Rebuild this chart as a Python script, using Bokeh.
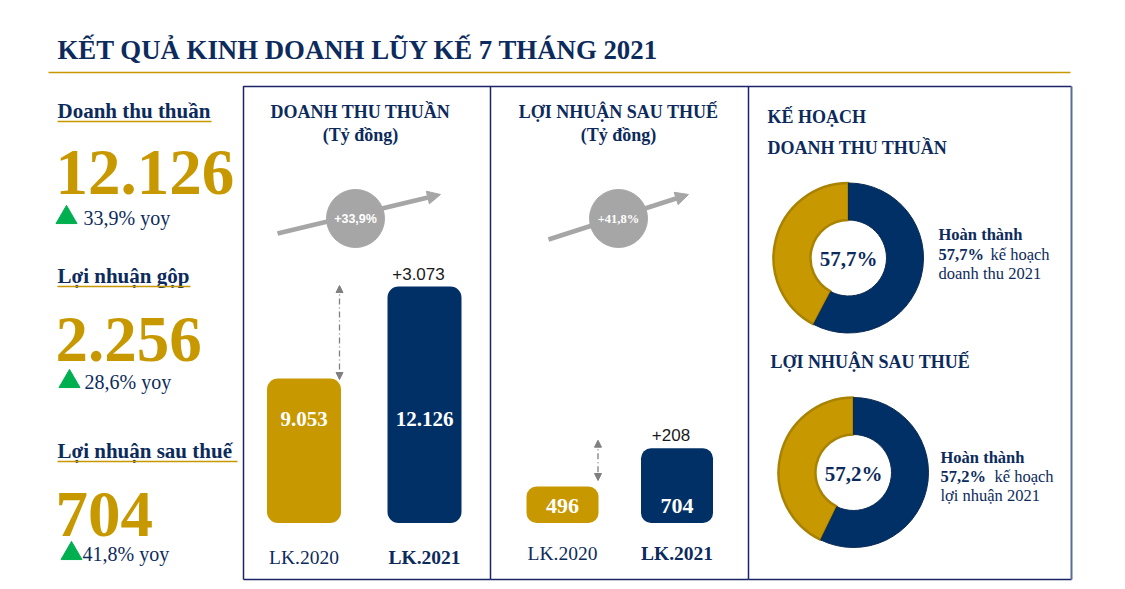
import math
from bokeh.plotting import figure
from bokeh.models import Range1d, Arrow, NormalHead
from bokeh.core.properties import value
from bokeh.embed import file_html
from bokeh.resources import INLINE

# ---------------- data ----------------
title_text = "KẾT QUẢ KINH DOANH LŨY KẾ 7 THÁNG 2021"
metric_names = ["Doanh thu thuần", "Lợi nhuận gộp", "Lợi nhuận sau thuế"]
metric_values = [12126, 2256, 704]
metric_yoy = [33.9, 28.6, 41.8]
periods = ["LK.2020", "LK.2021"]
revenue = [9053, 12126]
profit = [496, 704]
revenue_growth = 33.9
profit_growth = 41.8
panel_titles = ["DOANH THU THUẦN", "LỢI NHUẬN SAU THUẾ"]
panel_unit = "(Tỷ đồng)"
plan_titles = [["KẾ HOẠCH", "DOANH THU THUẦN"], ["LỢI NHUẬN SAU THUẾ"]]
plan_done = [57.7, 57.2]
plan_targets = ["doanh thu 2021", "lợi nhuận 2021"]


def vn_int(n):
    return f"{n:,}".replace(",", ".")


def vn_pct(x):
    return f"{x:.1f}".replace(".", ",") + "%"


# ---------------- style ----------------
NAVY = "#003066"
TNAVY = "#0C2B5C"
GOLD = "#C89800"
GOLD_EDGE = "#A98200"
GRAY = "#A6A6A6"
GREEN = "#00B050"
BORDER = "#1A2466"
SERIF = "Liberation Serif"
SANS = "Liberation Sans"

W, H = 1117, 585
TOP, BOTTOM = 0, H
p = figure(width=W, height=H, x_range=Range1d(0, W), y_range=Range1d(BOTTOM, TOP),
           output_backend="svg", toolbar_location=None, min_border=0,
           x_axis_location=None, y_axis_location=None)
p.grid.visible = False
p.outline_line_color = None
p.background_fill_color = "white"


def txt(x, y, s, size, color=TNAVY, style="normal", font=SERIF, align="left",
        baseline="middle", rname="default", y_offset=0):
    p.text(x=[x], y=[y], text=[s], text_font=value(font), text_font_size=f"{size}px",
           text_color=color, text_font_style=style, text_align=align,
           text_baseline=baseline, y_range_name=rname, y_offset=y_offset)


def lin_range(v1, y1, v2, y2, base_px):
    per_px = (v2 - v1) / (y1 - y2)
    start = v1 - (BOTTOM - y1) * per_px
    end = v1 + (y1 - TOP) * per_px
    base = v1 - (base_px - y1) * per_px
    return Range1d(start, end), base, per_px


# ---------------- title ----------------
txt(57, 49, title_text, 26.8, TNAVY, "bold")
p.segment(x0=[48], y0=[72], x1=[1070], y1=[72], line_color=GOLD, line_width=1.5)

# ---------------- left column ----------------
name_y = [110, 275, 450]
line_y = [121, 286, 461]
line_end = [211, 190, 237]
val_y = [172, 339, 514]
yoy_y = [217, 381, 553]
tri_x = [66, 69, 71]
yoy_x = [83, 84, 82]
for i in range(3):
    txt(57, name_y[i], metric_names[i], 21, TNAVY, "bold")
    p.segment(x0=[57], y0=[line_y[i]], x1=[line_end[i]], y1=[line_y[i]], line_color=GOLD, line_width=1.5)
    txt(55, val_y[i], vn_int(metric_values[i]), 65, GOLD, "bold")
    p.scatter(x=[tri_x[i]], y=[yoy_y[i]], marker="triangle", size=21, fill_color=GREEN, line_color=GREEN)
    txt(yoy_x[i], yoy_y[i], f"{vn_pct(metric_yoy[i])} yoy", 20, TNAVY)

# ---------------- panel borders ----------------
p.multi_line(xs=[[243, 243, 490, 490], [490, 748, 748], [748, 1071]],
             ys=[[579, 86, 86, 579], [86, 86, 579], [86, 86]],
             line_color=BORDER, line_width=1.5)
p.segment(x0=[243, 490, 748], y0=[579, 579, 579], x1=[490, 748, 1071], y1=[579, 579, 579],
          line_color=BORDER, line_width=1.5)
p.segment(x0=[1071], y0=[86], x1=[1071], y1=[579], line_color="#5A6A9A", line_width=2)

# ---------------- bar panels ----------------
rev_rng, rev_base, rev_pp = lin_range(revenue[0], 378, revenue[1], 286, 522.5)
pro_rng, pro_base, pro_pp = lin_range(profit[0], 486, profit[1], 447.7, 522.5)
p.extra_y_ranges = {"rev": rev_rng, "pro": pro_rng}

panels = [
    dict(cx=360, data=revenue, base=rev_base, pp=rev_pp, rname="rev", xs=[303.5, 424], w=74, r=11,
         growth=revenue_growth, circ=(355, 218), arr=(277, 233, 440, 194),
         vsize=21, vy=418, lab_y=557, dash_x=339, dash_pad=(1, 1)),
    dict(cx=618, data=profit, base=pro_base, pp=pro_pp, rname="pro", xs=[562, 676.5], w=72, r=10,
         growth=profit_growth, circ=(618, 218), arr=(548, 239, 688, 194),
         vsize=22, vy=505, lab_y=553, dash_x=597.5, dash_pad=(-6, -6)),
]
colors = [GOLD, NAVY]
for k, pn in enumerate(panels):
    txt(pn["cx"], 111, panel_titles[k], 18, TNAVY, "bold", align="center")
    txt(pn["cx"], 134, panel_unit, 18, TNAVY, "bold", align="center")
    # trend arrow + bubble
    ax0, ay0, ax1, ay1 = pn["arr"]
    arr = Arrow(x_start=ax0, y_start=ay0, x_end=ax1, y_end=ay1, line_color=GRAY, line_width=4.5,
                end=NormalHead(size=13, fill_color=GRAY, line_color=GRAY))
    arr.level = "underlay"
    p.add_layout(arr)
    p.scatter(x=[pn["circ"][0]], y=[pn["circ"][1]], marker="circle", size=58,
              fill_color=GRAY, line_color=GRAY)
    txt(pn["circ"][0], pn["circ"][1], "+" + vn_pct(pn["growth"]), 12.5, "white", "bold",
        font=SANS if k == 0 else SERIF, align="center")
    # bars
    p.vbar(x=pn["xs"], top=pn["data"], bottom=pn["base"], width=pn["w"], fill_color=colors,
           line_color=None, border_radius=pn["r"], y_range_name=pn["rname"])
    for j in range(2):
        txt(pn["xs"][j], pn["vy"], vn_int(pn["data"][j]), pn["vsize"], "white", "bold", align="center")
        txt(pn["xs"][j], pn["lab_y"], periods[j], 19.5, TNAVY, "bold" if j == 1 else "normal", align="center")
    delta = pn["data"][1] - pn["data"][0]
    txt(pn["xs"][1] - 6, pn["data"][1], "+" + vn_int(delta), 17, "#1A1A1A", font=SANS, align="center",
        rname=pn["rname"], y_offset=-13)
    # dashed double arrow between the two levels
    pad_hi = -pn["dash_pad"][0] * pn["pp"]
    pad_lo = -pn["dash_pad"][1] * pn["pp"]
    darr = Arrow(x_start=pn["dash_x"], y_start=pn["data"][1] + pad_hi + 2 * pn["pp"],
                 x_end=pn["dash_x"], y_end=pn["data"][0] + pad_lo,
                 line_color="#808080", line_width=1.3, line_dash="6 3 1 3",
                 start=NormalHead(size=7, fill_color="#808080", line_color="#808080"),
                 end=NormalHead(size=7, fill_color="#808080", line_color="#808080"),
                 y_range_name=pn["rname"])
    p.add_layout(darr)

# ---------------- plan panel (donuts) ----------------
donut_c = [(848, 257.5), (853, 472)]
title_rows = [[(767, 116), (767, 147)], [(770, 361)]]
side_x = [938, 940]
side_y = [[234, 253.5, 273], [457, 476, 495]]
side_kh_x = [990, 994]
for i in range(2):
    for s, (tx, ty) in zip(plan_titles[i], title_rows[i]):
        txt(tx, ty, s, 18, TNAVY, "bold")
    cx, cy = donut_c[i]
    frac = plan_done[i] / 100.0
    end_ang = math.pi / 2 - 2 * math.pi * frac
    p.annular_wedge(x=[cx], y=[cy], inner_radius=38, outer_radius=75,
                    inner_radius_units="screen", outer_radius_units="screen",
                    start_angle=math.pi / 2, end_angle=end_ang, direction="anticlock",
                    fill_color=GOLD, line_color=GOLD_EDGE, line_width=2.5)
    p.annular_wedge(x=[cx], y=[cy], inner_radius=38, outer_radius=75,
                    inner_radius_units="screen", outer_radius_units="screen",
                    start_angle=math.pi / 2, end_angle=end_ang, direction="clock",
                    fill_color=NAVY, line_color="#0A2A55", line_width=1)
    txt(cx, cy + 1, vn_pct(plan_done[i]), 21, TNAVY, "bold", align="center")
    txt(side_x[i], side_y[i][0], "Hoàn thành", 16.5, TNAVY, "bold")
    txt(side_x[i], side_y[i][1], vn_pct(plan_done[i]), 16.5, TNAVY, "bold")
    txt(side_kh_x[i], side_y[i][1], "kế hoạch", 16.5, TNAVY)
    txt(side_x[i], side_y[i][2], plan_targets[i], 16.5, TNAVY)

open("out.html", "w").write(file_html(p, INLINE))
